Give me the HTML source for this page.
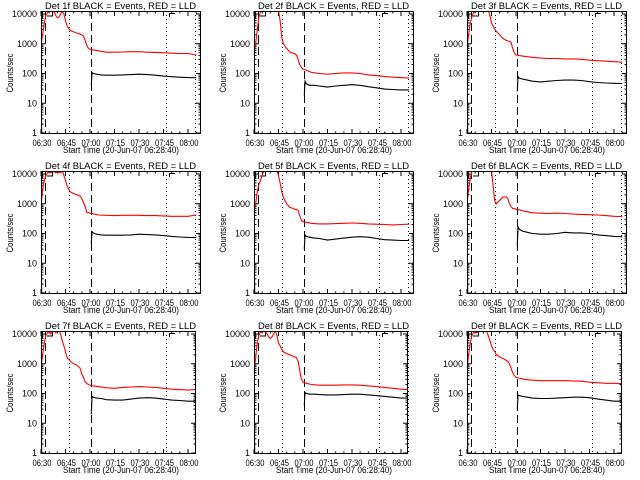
<!DOCTYPE html>
<html><head><meta charset="utf-8"><style>
html,body{margin:0;padding:0;background:#fff;}
svg{display:block;}
text{font-family:"Liberation Sans",sans-serif;font-size:9px;fill:#000;}
</style></head><body>
<svg id="chart" width="640" height="480" viewBox="0 0 640 480" xmlns="http://www.w3.org/2000/svg"></svg>
<script>
const detLabels = ["1f","2f","3f","4f","5f","6f","7f","8f","9f"];
const xTickLabels = ["06:30","06:45","07:00","07:15","07:30","07:45","08:00"];
const xTickMinutes = [0,15,30,45,60,75,90];
const yTickValues = [1,10,100,1000,10000];
const yTickLabels = ["1","10","100","1000","10000"];
const dashedTimes = [2.5,30.8];
const dottedTimes = [17,76.5,94.2];
const redTimes = [0,1,2,3,4,5,6,7,8,9,10,11,12,13,14,15,16,17,18,20,22,24,25,26,27,28,29,30,32,35,40,45,50,55,60,65,70,75,80,85,90,95];
const blackTimes = [0,0.4,15,30.8,31.2,32,34,37,40,45,50,55,60,65,70,75,80,85,90,95];
const red1 = [900,2000,5000,9000,11000,12000,12500,12000,12000,9000,7500,8000,10000,12000,10000,6000,4000,3200,2800,2500,2300,2100,2000,1800,1300,900,700,650,620,580,520,520,530,540,540,520,510,500,480,470,470,420];
const red2 = [500,1000,3000,8000,12000,14000,14000,14000,14000,14000,14000,14000,14000,14000,14000,13000,6000,1600,1000,700,520,480,460,420,300,200,160,140,130,110,100,95,100,105,105,100,90,85,80,75,72,70];
const red3 = [800,2000,5000,8000,11000,14000,14000,14000,14000,14000,14000,14000,14000,14000,9000,5000,4000,3000,2600,2000,1500,1300,1250,1200,1100,700,480,420,400,380,350,330,320,320,310,310,300,280,270,260,250,240];
const red4 = [800,3000,6000,9000,11000,12000,11000,12500,12000,11000,12000,11000,11000,13000,9000,6000,4000,3000,2500,2200,2000,1800,1500,1100,800,520,500,480,460,420,410,400,410,410,410,400,400,390,380,380,380,420];
const red5 = [600,1000,2500,4500,6000,9000,13000,13000,13000,13000,13000,13000,13000,13000,13000,9000,5000,2500,1600,1000,750,700,650,650,600,400,280,250,240,220,210,210,215,220,225,220,210,205,200,195,200,205];
const red6 = [1000,3000,7000,12000,14000,14000,14000,14000,14000,14000,14000,14000,14000,14000,14000,13000,4000,1200,1000,1300,1700,1700,1500,1000,800,700,680,650,620,560,500,480,470,480,470,450,440,430,420,400,380,370];
const red7 = [700,2000,5000,9000,11000,12000,10000,12000,13000,11000,13000,14000,10000,6000,4000,2500,1600,1400,1200,1000,900,700,450,350,250,220,200,190,180,170,155,150,160,165,170,165,160,150,140,135,130,135];
const red8 = [600,1500,5000,9000,12000,11000,13000,12000,10000,8000,7000,8000,10000,13000,9000,5000,4000,3000,2500,2200,2000,1800,1700,1600,1200,600,300,240,220,200,190,190,190,195,195,190,180,170,160,150,140,135];
const red9 = [700,2000,5000,9000,11000,12000,11000,12000,12000,12500,12000,13000,12500,9000,6000,4000,3000,2500,2000,1700,1500,1300,1200,1000,700,500,400,350,330,300,280,270,270,270,270,265,260,240,230,220,220,215];
const black1 = [100,1,null,40,110,100,95,90,88,88,90,92,95,92,88,82,78,75,73,72];
const black2 = [100,1,null,18,55,45,40,40,38,35,38,40,42,40,36,33,30,29,28,28];
const black3 = [150,1,null,25,80,70,65,60,55,52,55,58,60,60,58,53,50,48,47,46];
const black4 = [100,1,null,45,115,105,95,90,88,88,88,90,95,92,90,85,80,76,74,73];
const black5 = [100,1,null,30,90,80,75,70,68,60,65,70,75,78,75,68,62,60,58,58];
const black6 = [200,1,null,40,170,140,120,110,100,95,95,100,110,105,105,100,90,85,80,78];
const black7 = [300,1,null,20,80,75,70,68,62,60,60,65,70,72,70,65,60,58,55,55];
const black8 = [200,1,null,40,110,100,95,95,92,90,90,92,95,95,90,85,80,75,70,70];
const black9 = [150,1,null,30,90,85,80,75,70,68,68,70,72,75,75,72,65,60,55,55];
const redSeries = [red1,red2,red3,red4,red5,red6,red7,red8,red9];
const blackSeries = [black1,black2,black3,black4,black5,black6,black7,black8,black9];

const NS="http://www.w3.org/2000/svg";
const svg=document.getElementById('chart');
function mk(tag,attrs,parent){const e=document.createElementNS(NS,tag);for(const k in attrs)e.setAttribute(k,attrs[k]);(parent||svg).appendChild(e);return e;}
const PXMIN=147/90, DEC=29.75;
for(let p=0;p<9;p++){
  const col=p%3,row=Math.floor(p/3);
  const ox=col*213, oy=row*160;
  const L=ox+41, T=oy+11, B=oy+134, R=ox+(row===2?196:201)+(row===2&&col>0?-1:0)+(col===2?(row===2?1:0):0);
  const X=t=>L+t*PXMIN;
  const Y=v=>oy+133-DEC*Math.log10(v);
  const g=mk('g',{});
  
  
  const cid='clip'+p;
  const cp=mk('clipPath',{id:cid},g);mk('rect',{x:L,y:T,width:R-L,height:B-T},cp);
  // title
  const tt=mk('text',{x:L+4,y:oy+9,textLength:151,lengthAdjust:'spacingAndGlyphs'},g);
  tt.textContent='Det '+detLabels[p]+' BLACK = Events, RED = LLD';
  
  
  // y title
  const yt=mk('text',{x:0,y:0,transform:'translate('+(ox+13)+','+(oy+73)+') rotate(-90)','text-anchor':'middle',textLength:39,lengthAdjust:'spacingAndGlyphs'},g);
  yt.textContent='Counts/sec';
  
  
  // x title
  const xt=mk('text',{x:ox+63,y:oy+153,textLength:116,lengthAdjust:'spacingAndGlyphs'},g);
  xt.textContent='Start Time (20-Jun-07 06:28:40)';
  
  
  // y ticks
  for(let i=0;i<yTickValues.length;i++){
    const y=Y(yTickValues[i]);
    mk('line',{x1:L,x2:L+5,y1:y,y2:y,stroke:'#000'},g);
    mk('line',{x1:R,x2:R-5,y1:y,y2:y,stroke:'#000'},g);
    const lb=mk('text',{x:L-4,y:y+3,'text-anchor':'end'},g);
    lb.textContent=yTickLabels[i];
    
    
    if(i<yTickValues.length-1){for(let m=2;m<10;m++){const ym=Y(yTickValues[i]*m);mk('line',{x1:L,x2:L+2.5,y1:ym,y2:ym,stroke:'#000'},g);mk('line',{x1:R,x2:R-2.5,y1:ym,y2:ym,stroke:'#000'},g);}}
  }
  // x ticks
  for(let i=0;i<xTickMinutes.length;i++){
    const x=X(xTickMinutes[i]);
    mk('line',{x1:x,x2:x,y1:B,y2:B-5,stroke:'#000'},g);
    mk('line',{x1:x,x2:x,y1:T,y2:T+5,stroke:'#000'},g);
    const lb=mk('text',{x:x+1,y:oy+146,'text-anchor':'middle',textLength:19,lengthAdjust:'spacingAndGlyphs'},g);
    lb.textContent=xTickLabels[i];
    
    
  }
  for(let t=5;X(t)<R;t+=5){if(t%15){const x=X(t);mk('line',{x1:x,x2:x,y1:B,y2:B-2.5,stroke:'#000'},g);mk('line',{x1:x,x2:x,y1:T,y2:T+2.5,stroke:'#000'},g);}}
  // event lines
  dashedTimes.forEach(t=>{const x=Math.round(X(t))+0.5;const l=mk('line',{x1:x,x2:x,y1:T,y2:B,stroke:'#000','stroke-dasharray':'8,4'},g);});
  dottedTimes.forEach(t=>{const x=Math.round(X(t))+0.5;const l=mk('line',{x1:x,x2:x,y1:T,y2:B,stroke:'#000','stroke-dasharray':'1,3'},g);});
  // brackets
  mk('path',{d:`M${L+1.5},${T+7} V${T+0.5} H${L+11.5} V${T+5} H${L+6}`,fill:'none',stroke:'#000'},g);
  mk('path',{d:`M${L+134},${T+2.5} H${L+128.5} V${T+6}`,fill:'none',stroke:'#000'},g);
  // series
  const cg=mk('g',{'clip-path':'url(#'+cid+')'},g);
  function line(times,vals,color,name){
    let d='',pen=false;
    for(let i=0;i<times.length;i++){const v=vals[i];if(v==null){pen=false;continue;}d+=(pen?'L':'M')+X(times[i]).toFixed(1)+','+Y(v).toFixed(1);pen=true;}
    const pth=mk('path',{d:d,fill:'none',stroke:color,'stroke-width':1.1},cg);
    
    
  }
  line(redTimes,redSeries[p],'#ff0000','lld-series');
  line(blackTimes,blackSeries[p],'#000000','events-series');
  mk('rect',{x:L+0.5,y:T+0.5,width:R-L-1,height:B-T-1,fill:'none',stroke:'#000'},g);
}
</script>
</body></html>
